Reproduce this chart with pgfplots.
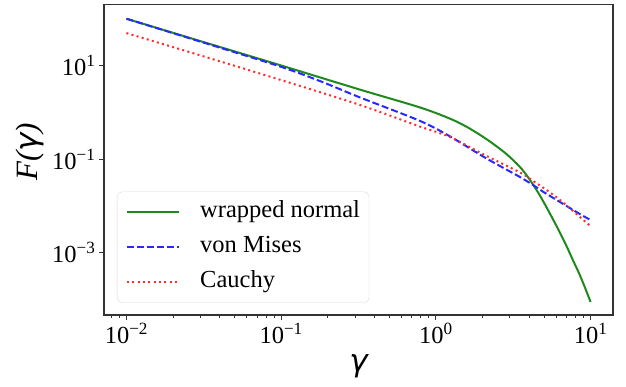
\documentclass[border=0pt]{standalone}
\usepackage{fontspec}
\setmainfont{Liberation Serif}
\newfontfamily\dejavu{DejaVu Sans}
\usepackage{pgfplots}
\pgfplotsset{compat=1.18}
\definecolor{mgreen}{RGB}{30,138,30}
\definecolor{mblue}{RGB}{40,40,255}
\definecolor{mred}{RGB}{255,45,45}
\newcommand{\tl}[1]{10\textsuperscript{#1}}
\begin{document}
\begin{tikzpicture}
\useasboundingbox (-104pt,-72pt) rectangle (522pt,315pt);
\begin{axis}[
  scale only axis, width=509pt, height=310.3pt,
  xmode=log, ymode=log,
  xmin=0.00716, xmax=13.96,
  ymin=4.68e-5, ymax=199.5,
  xtick={0.01,0.1,1,10},
  xticklabels={\tl{−2},\tl{−1},\tl{0},\tl{1}},
  minor xtick={0.008,0.009,0.02,0.03,0.04,0.05,0.06,0.07,0.08,0.09,0.2,0.3,0.4,0.5,0.6,0.7,0.8,0.9,2,3,4,5,6,7,8,9},
  ytick={0.001,0.1,10},
  yticklabels={\tl{−3},\tl{−1},\tl{1}},
  minor ytick={},
  tick align=outside, tick pos=left,
  major tick length=5pt, minor tick length=3pt,
  axis line style={black!80, line width=1.1pt},
  every major tick/.style={black!80, line width=1.1pt},
  every minor tick/.style={black!80, line width=0.8pt},
  ticklabel style={font=\fontsize{24.5}{28}\selectfont},
  xlabel={{\dejavu\itshape γ}},
  ylabel={\itshape F({\dejavu\itshape γ})},
  label style={font=\fontsize{31}{35}\selectfont},
  xlabel style={at={(axis description cs:0.5,-0.1805)}, anchor=base},
  ylabel style={at={(axis description cs:-0.1316,0.526)}, anchor=base, rotate=0},
  legend style={at={(0.0255,0.0387)}, anchor=south west,
    font=\fontsize{24.5}{29}\selectfont, draw=black!15, rounded corners=5pt,
    fill=white, fill opacity=0.8, text opacity=1,
    inner xsep=9pt, inner ysep=9pt, row sep=12pt,
    nodes={inner xsep=0pt, inner ysep=0pt, text height=17pt, text depth=6pt},
    /tikz/every odd column/.append style={column sep=20pt}},
  legend cell align=left,
  legend image code/.code={\draw[#1] (0pt,0pt) -- (52pt,0pt);},
]
\addplot[mgreen, line width=2pt, smooth] coordinates {
(0.01,100) (0.03,33.3) (0.0978,10.25) (0.321,3.08) (0.785,1.28) (1.226,0.74) (1.6,0.48) (2.116,0.27)
(2.8,0.136) (3.475,0.0695) (4.03,0.0372) (4.7,0.0168) (5.42,0.0072) (6.2,0.0031) (6.95,0.00145) (7.7,6.9e-4) (8.47,3.5e-4) (9.2,1.8e-4) (10,8.9e-5)};
\addlegendentry{wrapped normal}
\addplot[mblue, line width=2pt, dash pattern=on 7pt off 3pt, smooth] coordinates {
(0.01,100) (0.03,32.5) (0.0978,9.6) (0.18,4.6) (0.321,2.1) (0.785,0.662) (1.226,0.31) (2.116,0.104)
(3.475,0.042) (4.35,0.0266) (4.89,0.0205) (6.46,0.0117) (8.47,0.0068) (10,0.0050)};
\addlegendentry{von Mises}
\addplot[mred, line width=2pt, dash pattern=on 2pt off 3.3pt, smooth] coordinates {
(0.01,49.4) (0.03,16.5) (0.0978,5.0) (0.321,1.45) (0.785,0.50) (1.226,0.30) (2.116,0.118)
(3.475,0.0525) (4.24,0.0345) (5.34,0.0205) (6.46,0.0128) (8.67,0.00555) (10,0.0037)};
\addlegendentry{Cauchy}
\end{axis}
\end{tikzpicture}
\end{document}
